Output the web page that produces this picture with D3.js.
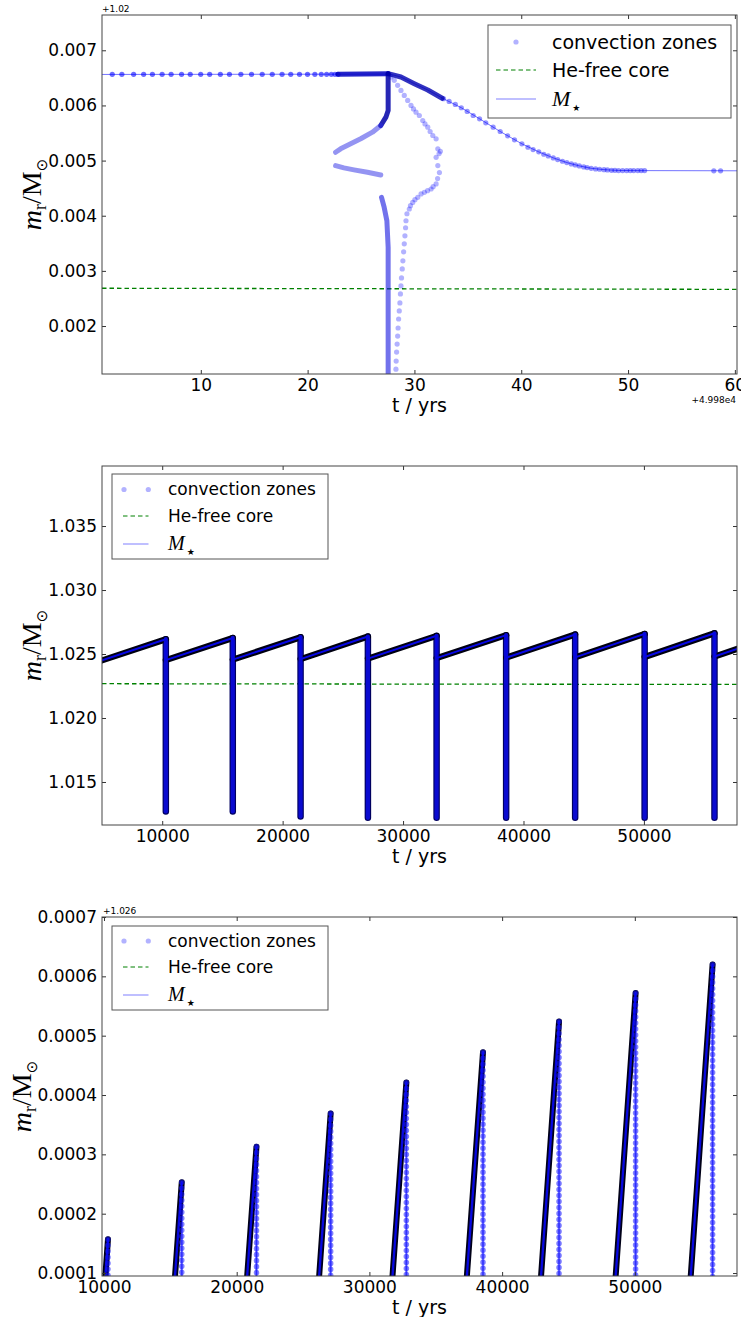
<!DOCTYPE html>
<html>
<head>
<meta charset="utf-8">
<script src="https://cdn.jsdelivr.net/npm/d3@7"></script>
<style>
  body { margin: 0; background: #fff; }
  svg { display: block; }
</style>
</head>
<body>
<svg id="chart" width="741" height="1317"></svg>
<script>
// ---------- panel 1 data (t offset +49980 yrs, m offset +1.02 Msun) ----------
const p1XTicks = [10, 20, 30, 40, 50, 60];
const p1YTicks = [0.002, 0.003, 0.004, 0.005, 0.006, 0.007];
const p1XDomain = [0.75, 60.2];
const p1YDomain = [0.00113, 0.00764];

const p1Star = [[0.75, 0.006562], [27.3, 0.006568], [27.54, 0.006578], [28.74, 0.006515], [29.99, 0.006395],
  [31.25, 0.00628], [32.72, 0.006122], [34.39, 0.005958], [36.1, 0.005758], [38.03, 0.005527], [40.06, 0.005304],
  [41.64, 0.005158], [43.0, 0.005049], [44.27, 0.004964], [45.44, 0.004904], [46.55, 0.00486], [47.75, 0.004836],
  [49.11, 0.004821], [51.55, 0.004818], [60.2, 0.004815]];
const p1HeCore = [[0.75, 0.002685], [60.2, 0.002665]];

const p1SurfaceM = 0.006565;
const p1TopDotT = [1.71, 2.61, 3.71, 4.65, 5.47, 6.38, 7.22, 8.2, 9.01, 9.99, 10.83, 11.83, 12.68, 13.75,
  14.75, 15.75, 16.69, 17.61, 18.42, 19.24, 19.99, 20.68, 21.28, 21.78, 22.22, 22.56, 22.84];

const p1FallDots = [[32.72, 0.006122], [33.25, 0.006073], [33.83, 0.006018], [34.39, 0.005958], [34.94, 0.005891],
  [35.5, 0.005818], [36.1, 0.005758], [36.68, 0.005685], [37.37, 0.005606], [38.03, 0.005527], [38.73, 0.005449],
  [39.37, 0.005376], [40.06, 0.005304], [40.63, 0.005242], [41.11, 0.0052], [41.64, 0.005158], [42.11, 0.005115],
  [42.53, 0.005085], [43.0, 0.005049], [43.41, 0.005018], [43.86, 0.004988], [44.27, 0.004964], [44.69, 0.00494],
  [45.06, 0.004922], [45.44, 0.004904], [45.85, 0.004885], [46.17, 0.004873], [46.55, 0.00486], [46.96, 0.004849],
  [47.34, 0.004843], [47.75, 0.004836], [48.07, 0.00483], [48.45, 0.004824], [48.77, 0.004824], [49.11, 0.004818],
  [49.49, 0.004818], [49.87, 0.004818], [50.21, 0.004818], [50.53, 0.004818], [50.91, 0.004818], [51.23, 0.004818],
  [51.55, 0.004818], [58.03, 0.004815], [58.66, 0.004815]];

const p1LoopDots = [[27.8, 0.006515], [28.11, 0.006455], [28.43, 0.006364], [28.74, 0.006273], [29.05, 0.006182],
  [29.37, 0.006091], [29.68, 0.006], [29.91, 0.005936], [30.15, 0.005878], [30.46, 0.005818], [30.78, 0.005727],
  [30.99, 0.005664], [31.25, 0.005606], [31.47, 0.005527], [31.72, 0.005455], [32.03, 0.005395], [32.19, 0.005213],
  [32.43, 0.005169], [32.31, 0.005127], [32.03, 0.00506], [32.19, 0.004909], [32.34, 0.004782], [32.17, 0.004673],
  [32.03, 0.004576], [31.75, 0.004527], [31.56, 0.004485], [31.23, 0.004455], [30.93, 0.004424], [30.62, 0.004395],
  [30.31, 0.004333], [30.05, 0.004291], [29.84, 0.004242], [29.63, 0.004182], [29.52, 0.004122], [29.3, 0.004036],
  [29.21, 0.003909], [29.17, 0.003782], [29.11, 0.003636], [29.05, 0.003491], [28.99, 0.003345], [28.92, 0.003182],
  [28.86, 0.003036], [28.79, 0.002873], [28.74, 0.002727], [28.69, 0.002582], [28.64, 0.002418], [28.58, 0.002273],
  [28.52, 0.002127], [28.47, 0.001964], [28.43, 0.001818], [28.38, 0.001673], [28.33, 0.001527], [28.29, 0.001364],
  [28.27, 0.001218]];

// dense convective boundaries (overlapping markers)
const p1TrackTop = [[22.84, 0.006565], [27.54, 0.006576]];
const p1TrackKnee = [[27.54, 0.006576], [28.74, 0.006515], [29.99, 0.006395], [31.25, 0.00628], [32.6, 0.00613]];
const p1TrackStem = [[27.54, 0.006576], [27.54, 0.005909], [27.33, 0.005787], [26.85, 0.005636]];
const p1TrackHook = [[26.85, 0.005636], [26.07, 0.005515], [24.97, 0.005395], [24.03, 0.005304],
  [23.09, 0.005213], [22.62, 0.005151]];
const p1TrackLow = [[22.62, 0.004909], [23.4, 0.004867], [24.34, 0.004831], [25.6, 0.004787], [26.85, 0.00474]];
const p1TrackDeep = [[26.92, 0.004333], [27.17, 0.004151], [27.42, 0.003909], [27.54, 0.003424], [27.54, 0.00113]];

// ---------- panels 2 and 3: thermal pulses ----------
const p2XTicks = [10000, 20000, 30000, 40000, 50000];
const p2YTicks = [1.015, 1.020, 1.025, 1.030, 1.035];
const p2XDomain = [5000, 57730];
const p2YDomain = [1.01164, 1.03969];
const p2HeCore = [[5000, 1.02268], [57730, 1.02262]];

const p3XTicks = [10000, 20000, 30000, 40000, 50000];
const p3YTicks = [1.0261, 1.0262, 1.0263, 1.0264, 1.0265, 1.0266, 1.0267];
const p3XDomain = [9850, 57700];
const p3YDomain = [1.026095, 1.0267];

const pulseT = [10300, 15860, 21490, 27080, 32785, 38560, 44290, 50060, 55860];
const pulsePeakM = [1.026157, 1.026253, 1.026313, 1.026369, 1.026421, 1.026472, 1.026524, 1.026572, 1.02662];
const pulsePostM = [1.02452, 1.02456, 1.0246, 1.02464, 1.02468, 1.02471, 1.02474, 1.02477, 1.0248];
const pulseBaseM = [1.0127, 1.0127, 1.0123, 1.0122, 1.0122, 1.0122, 1.0122, 1.0122, 1.0122];
const starStart = [5000, 1.0245];
const starEnd = [57730, 1.0254];

// ---------- layout ----------
const svg = d3.select('#chart');
const left = 102, right = 737, plotH = 359;
const panelTops = [15, 466, 917];
const BLUE = '#0000ff';

function makePanel(idx, xDomain, yDomain) {
    const top = panelTops[idx];
    const x = d3.scaleLinear().domain(xDomain).range([left, right]);
    const y = d3.scaleLinear().domain(yDomain).range([top + plotH, top]);
    svg.append('clipPath').attr('id', 'clip' + idx)
        .append('rect').attr('x', left).attr('y', top).attr('width', right - left).attr('height', plotH);
    const plot = svg.append('g').attr('clip-path', `url(#clip${idx})`);
    const line = d3.line().x(d => x(d[0])).y(d => y(d[1]));
    return { x, y, plot, top, line };
}

function drawAxes(p, xTicks, yTicks, xFmt, yFmt) {
    const bottom = p.top + plotH;
    const setup = g => {
        g.attr('font-size', 17).attr('font-family', '"DejaVu Sans", sans-serif');
        g.select('.domain').remove();
        g.selectAll('.tick line').attr('stroke', '#333');
        g.selectAll('.tick text').attr('fill', '#000');
    };
    svg.append('g').attr('transform', `translate(0,${bottom})`)
        .call(d3.axisBottom(p.x).tickValues(xTicks).tickFormat(xFmt).tickSize(-4).tickPadding(5)).call(setup);
    svg.append('g').attr('transform', `translate(0,${p.top})`)
        .call(d3.axisTop(p.x).tickValues(xTicks).tickFormat(() => '').tickSize(-4)).call(setup);
    svg.append('g').attr('transform', `translate(${left},0)`)
        .call(d3.axisLeft(p.y).tickValues(yTicks).tickFormat(yFmt).tickSize(-4).tickPadding(5)).call(setup);
    svg.append('g').attr('transform', `translate(${right},0)`)
        .call(d3.axisRight(p.y).tickValues(yTicks).tickFormat(() => '').tickSize(-4)).call(setup);

    svg.append('rect')
        .attr('x', left).attr('y', p.top).attr('width', right - left).attr('height', plotH)
        .attr('fill', 'none').attr('stroke', '#444').attr('stroke-width', 1);

    svg.append('text')
        .attr('x', (left + right) / 2).attr('y', bottom + 38)
        .attr('text-anchor', 'middle').attr('font-size', 19)
        .attr('font-family', '"DejaVu Sans", sans-serif')
        .text('t / yrs');
}

function drawYLabel(lx, cy) {
    const t = svg.append('text')
        .attr('transform', `translate(${lx},${cy}) rotate(-90)`)
        .attr('text-anchor', 'middle')
        .attr('font-family', '"Liberation Serif", serif')
        .attr('font-size', 28);
    t.append('tspan').attr('font-style', 'italic').text('m');
    t.append('tspan').attr('font-size', 18).attr('dy', 5).text('r');
    t.append('tspan').attr('dy', -5).text('/M');
    t.append('tspan').attr('font-family', '"DejaVu Sans", sans-serif').attr('font-size', 15).attr('dy', 6).text('\u2299');
}

function drawLegend(box, rowY, textX, sample, dotXs, fontSize) {
    const g = svg.append('g');
    g.append('rect').attr('x', box[0]).attr('y', box[1]).attr('width', box[2]).attr('height', box[3])
        .attr('fill', '#fff').attr('stroke', '#555').attr('stroke-width', 1);
    dotXs.forEach(dx => {
        g.append('circle').attr('cx', dx).attr('cy', rowY[0]).attr('r', 2.6)
            .attr('fill', BLUE).attr('fill-opacity', 0.3);
    });
    g.append('line').attr('x1', sample[0]).attr('x2', sample[1]).attr('y1', rowY[1]).attr('y2', rowY[1])
        .attr('stroke', '#008000').attr('stroke-dasharray', '4.5,3');
    g.append('line').attr('x1', sample[0]).attr('x2', sample[1]).attr('y1', rowY[2]).attr('y2', rowY[2])
        .attr('stroke', BLUE).attr('stroke-opacity', 0.5);
    const txt = (y, s) => g.append('text').attr('x', textX).attr('y', y).attr('dy', '0.35em')
        .attr('font-size', fontSize).attr('font-family', '"DejaVu Sans", sans-serif').text(s);
    txt(rowY[0], 'convection zones');
    txt(rowY[1], 'He-free core');
    const m = g.append('text').attr('x', textX).attr('y', rowY[2]).attr('dy', '0.3em')
        .attr('font-size', fontSize + 3).attr('font-family', '"Liberation Serif", serif');
    m.append('tspan').attr('font-style', 'italic').text('M');
    m.append('tspan').attr('font-family', '"DejaVu Sans", sans-serif').attr('font-size', 9).attr('dy', 5).attr('dx', 2).text('\u2605');
}

function track(p, pts, color, width, opacity) {
    return p.plot.append('path').datum(pts).attr('d', p.line)
        .attr('fill', 'none').attr('stroke', color).attr('stroke-width', width)
        .attr('stroke-opacity', opacity).attr('stroke-linecap', 'round').attr('stroke-linejoin', 'round');
}

function dots(p, pts, opacity) {
    p.plot.append('g').selectAll('circle').data(pts).enter().append('circle')
        .attr('cx', d => p.x(d[0])).attr('cy', d => p.y(d[1])).attr('r', 2.6)
        .attr('fill', BLUE).attr('fill-opacity', opacity);
}

// ---------- panel 1 ----------
const p1 = makePanel(0, p1XDomain, p1YDomain);
track(p1, p1Star, BLUE, 1, 0.55);
track(p1, p1HeCore, '#008000', 1.3, 1).attr('stroke-linecap', 'butt').attr('stroke-dasharray', '4.5,3');
dots(p1, p1TopDotT.map(t => [t, p1SurfaceM]), 0.58);
dots(p1, p1FallDots, 0.42);
dots(p1, p1LoopDots, 0.3);
track(p1, p1TrackTop, '#0000c0', 5, 0.85);
track(p1, p1TrackKnee, '#0000b0', 5, 0.8);
track(p1, p1TrackStem, '#0000a8', 5, 0.85);
track(p1, p1TrackHook, '#2a2ae6', 5, 0.5);
track(p1, p1TrackLow, '#2a2ae6', 5, 0.5);
track(p1, p1TrackDeep, '#1c1ce0', 5, 0.62);
drawAxes(p1, p1XTicks, p1YTicks, d => d, d3.format('.3f'));
drawYLabel(41, p1.top + plotH / 2);
drawLegend([488, 25, 243, 93], [42, 70, 99], 552, [496, 536], [516], 19);
svg.append('text').attr('x', left).attr('y', 12).attr('font-size', 9)
    .attr('font-family', '"DejaVu Sans", sans-serif').text('+1.02');
svg.append('text').attr('x', right - 1).attr('y', 403).attr('text-anchor', 'end').attr('font-size', 9)
    .attr('font-family', '"DejaVu Sans", sans-serif').text('+4.998e4');

// ---------- pulses helpers ----------
function starPath() {
    const pts = [starStart];
    pulseT.forEach((t, i) => { pts.push([t, pulsePeakM[i]]); pts.push([t, pulsePostM[i]]); });
    pts.push(starEnd);
    return pts;
}
function rampSegments() {
    const segs = [];
    let prev = starStart;
    pulseT.forEach((t, i) => { segs.push([prev, [t, pulsePeakM[i]]]); prev = [t, pulsePostM[i]]; });
    segs.push([prev, starEnd]);
    return segs;
}

// ---------- panel 2 ----------
const p2 = makePanel(1, p2XDomain, p2YDomain);
track(p2, p2HeCore, '#008000', 1.3, 1).attr('stroke-linecap', 'butt').attr('stroke-dasharray', '4.5,3');
pulseT.forEach((t, i) => track(p2, [[t, pulsePeakM[i]], [t, pulseBaseM[i]]], '#000060', 6.5, 1));
rampSegments().forEach(s => track(p2, s, '#000010', 6.2, 1));
pulseT.forEach((t, i) => track(p2, [[t, pulsePeakM[i]], [t, pulseBaseM[i]]], '#0a0ad0', 4.2, 1));
rampSegments().forEach(s => track(p2, s, '#0a0ad8', 2, 1));
p2.plot.append('path').datum(starPath()).attr('d', p2.line).attr('fill', 'none')
    .attr('stroke', BLUE).attr('stroke-opacity', 0.5).attr('stroke-width', 1);
drawAxes(p2, p2XTicks, p2YTicks, d3.format('d'), d3.format('.3f'));
drawYLabel(41, p2.top + plotH / 2);
drawLegend([112, 474, 216, 85], [489.5, 516, 544], 168, [123, 148.5], [124, 148.3], 17);

// ---------- panel 3 ----------
const p3 = makePanel(2, p3XDomain, p3YDomain);
pulseT.forEach((t, i) => track(p3, [[t, pulsePeakM[i]], [t, pulseBaseM[i]]], BLUE, 2.5, 0.4));
rampSegments().forEach(s => track(p3, s, '#000018', 6, 1));
rampSegments().forEach(s => track(p3, s, '#0c0cd0', 2.4, 1));
pulseT.forEach((t, i) => {
    track(p3, [[t, pulsePeakM[i]], [t, pulseBaseM[i]]], '#1a1aff', 5.6, 0.55).attr('stroke-dasharray', '0,6');
});
p3.plot.append('path').datum(starPath()).attr('d', p3.line).attr('fill', 'none')
    .attr('stroke', BLUE).attr('stroke-opacity', 0.5).attr('stroke-width', 1);
drawAxes(p3, p3XTicks, p3YTicks, d3.format('d'), d => (d - 1.026).toFixed(4));
drawYLabel(31, p3.top + plotH / 2);
drawLegend([112, 926, 216, 84], [941, 967, 995], 168, [123, 148.5], [124, 148.3], 17);
svg.append('text').attr('x', left + 1).attr('y', 914).attr('font-size', 9)
    .attr('font-family', '"DejaVu Sans", sans-serif').text('+1.026');
</script>
</body>
</html>
